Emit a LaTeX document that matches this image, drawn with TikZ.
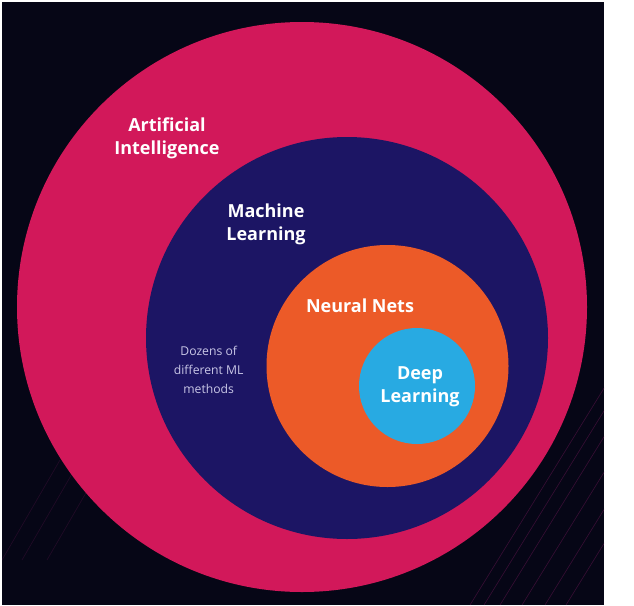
\documentclass[tikz,border=0pt]{standalone}
\usepackage{fontspec}
\setmainfont{Open Sans}
\definecolor{bgdark}{RGB}{6,6,22}
\definecolor{aipink}{RGB}{210,24,90}
\definecolor{mlnavy}{RGB}{28,21,100}
\definecolor{nnorange}{RGB}{236,90,40}
\definecolor{dlblue}{RGB}{40,170,226}
\definecolor{softtext}{RGB}{200,198,230}
\definecolor{streak}{RGB}{150,30,110}
\begin{document}
\begin{tikzpicture}[x=1pt,y=-1pt,
  ring/.style={circle,inner sep=0pt,draw=none},
  biglabel/.style={text=white,font=\fontsize{18}{23}\selectfont\bfseries,align=center,inner sep=0pt},
  smalllabel/.style={text=softtext,font=\fontsize{12.2}{19}\selectfont,align=center,inner sep=0pt},
  streakline/.style={draw=streak,line width=0.6pt,opacity=0.35}]
\useasboundingbox (0,0) rectangle (634,605);
\fill[white] (0,0) rectangle (634,605);
\fill[bgdark] (2,2) rectangle (604,605);
% faint streaks
\begin{scope}
\clip (2,2) rectangle (604,605);
\foreach \s in {0,14,30,52,75,96}{
  \draw[streakline] (470+\s,605) -- (640+\s,330);
}
\foreach \s in {0,20,45}{
  \draw[streakline,opacity=0.2] (2+\s,560) -- (60+\s,460);
}
\end{scope}
\node[ring,fill=aipink,minimum size=570pt] (ai) at (302,307) {};
\node[ring,fill=mlnavy,minimum size=402pt] (ml) at (347,338) {};
\node[ring,fill=nnorange,minimum size=242pt] (nn) at (387.5,366) {};
\node[ring,fill=dlblue,minimum size=116pt] (dl) at (417,386) {};
\node[biglabel] (ailab) at (167,138) {Artificial\\Intelligence};
\node[biglabel] (mllab) at (266,224.5) {Machine\\Learning};
\node[biglabel] (nnlab) at (360,305.5) {Neural Nets};
\node[biglabel] (dllab) at (420,387) {Deep\\Learning};
\node[smalllabel] (dozens) at (208.7,370) {Dozens of\\different ML\\methods};
\end{tikzpicture}
\end{document}
